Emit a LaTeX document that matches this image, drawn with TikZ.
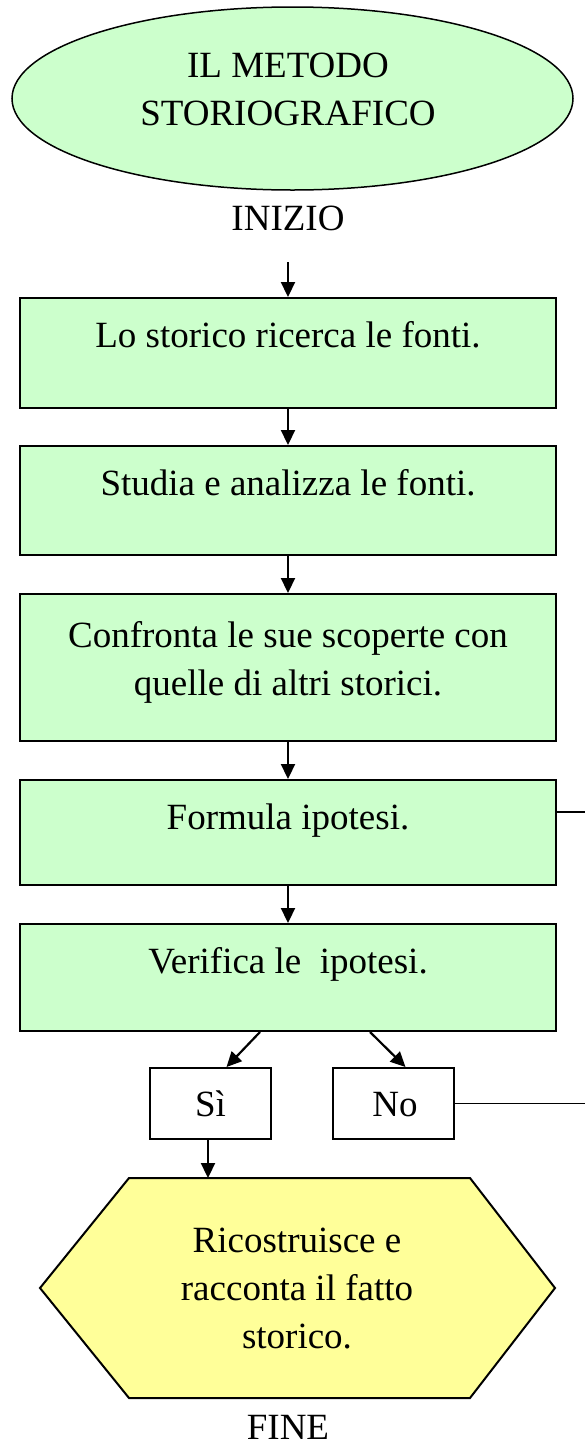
\documentclass[tikz,border=0pt]{standalone}
\usepackage{fontspec}
\setmainfont{Liberation Serif}
\usetikzlibrary{shapes.geometric,arrows.meta}
\definecolor{boxgreen}{HTML}{CCFFCC}
\definecolor{hexyellow}{HTML}{FFFF99}
\begin{document}
\begin{tikzpicture}[x=1pt,y=-1pt,
  txt/.style={anchor=base, font=\fontsize{37}{48}\selectfont, inner sep=0pt},
  stepbox/.style={draw=black, line width=2pt, fill=boxgreen, minimum width=536pt, inner sep=0pt},
  choice/.style={draw=black, line width=2pt, fill=white, minimum width=121pt, minimum height=71pt, inner sep=0pt},
  arr/.style={line width=2.2pt, -{Triangle[length=15pt,width=14pt]}},
  link/.style={line width=1.6pt}
]
\useasboundingbox (0,0) rectangle (585,1446);

% start ellipse
\node[ellipse, draw=black, line width=1.5pt, fill=boxgreen, minimum width=561pt, minimum height=183pt, inner sep=0pt] (start) at (292.5,98.5) {};
\node[txt] (t0a) at (288,77) {IL METODO};
\node[txt] (t0b) at (288,125) {STORIOGRAFICO};
\node[txt] (inizio) at (288,230) {INIZIO};
\coordinate (a0) at (288,262);

% boxes
\node[stepbox, minimum height=110pt] (b1) at (288,353) {};
\node[txt] (t1) at (288,347) {Lo storico ricerca le fonti.};

\node[stepbox, minimum height=109pt] (b2) at (288,500.5) {};
\node[txt] (t2) at (288,495) {Studia e analizza le fonti.};

\node[stepbox, minimum height=147pt] (b3) at (288,667.5) {};
\node[txt] (t3a) at (288,647) {Confronta le sue scoperte con};
\node[txt] (t3b) at (288,695) {quelle di altri storici.};

\node[stepbox, minimum height=105pt] (b4) at (288,832.5) {};
\node[txt] (t4) at (288,829) {Formula ipotesi.};

\node[stepbox, minimum height=107pt] (b5) at (288,977.5) {};
\node[txt] (t5) at (288,973) {Verifica le\ \ ipotesi.};

% choices
\node[choice] (si) at (210.5,1103.5) {};
\node[txt] (tsi) at (210.5,1116) {Sì};
\node[choice] (no) at (393.5,1103.5) {};
\node[txt] (tno) at (395,1116) {No};

% hexagon
\draw[line width=2pt, fill=hexyellow] (129,1178) coordinate (hexTL) -- (470,1178) -- (555,1288) -- (470,1398) -- (129,1398) -- (40,1288) -- cycle;
\coordinate (hexin) at (208,1178);
\node[txt] (th1) at (297,1252) {Ricostruisce e};
\node[txt] (th2) at (297,1300) {racconta il fatto};
\node[txt] (th3) at (297,1348) {storico.};
\node[txt] (fine) at (288,1439) {FINE};

% connectors
\draw[arr] (a0) -- (b1.north);
\draw[arr] (b1.south) -- (b2.north);
\draw[arr] (b2.south) -- (b3.north);
\draw[arr] (b3.south) -- (b4.north);
\draw[arr] (b4.south) -- (b5.north);
\draw[arr] ([xshift=-28pt]b5.south) -- ([xshift=16pt]si.north);
\draw[arr] ([xshift=82pt]b5.south) -- ([xshift=12pt]no.north);
\draw[arr] ([xshift=-2.5pt]si.south) -- (hexin);

\coordinate (r4) at (585,812);
\coordinate (rno) at (585,1103.5);
\draw[link] ([yshift=20.5pt]b4.east) -- (r4);
\draw[link] (no.east) -- (rno);
\end{tikzpicture}
\end{document}
